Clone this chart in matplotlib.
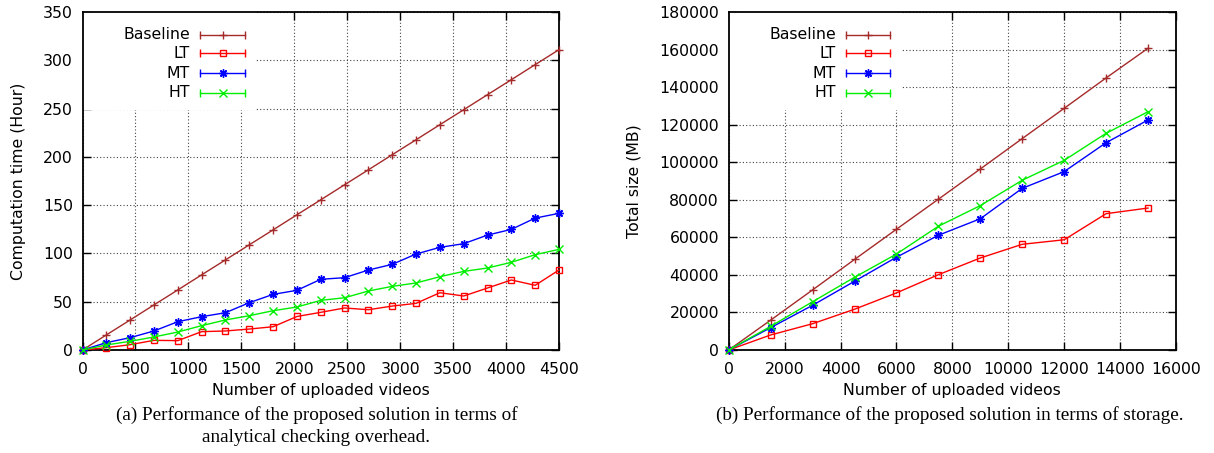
import numpy as np
import matplotlib.pyplot as plt
from matplotlib.patches import Rectangle

# (a) analytical checking overhead
videos_a = [0, 225, 450, 675, 900, 1125, 1350, 1575, 1800, 2025, 2250,
            2475, 2700, 2925, 3150, 3375, 3600, 3825, 4050, 4275, 4500]
base_a = [0, 15.6, 31.1, 46.7, 62.2, 77.8, 93.3, 108.9, 124.4, 140.0, 155.5,
          171.1, 186.6, 202.2, 217.7, 233.3, 248.8, 264.4, 279.9, 295.5, 311.0]
lt_a = [0, 2.4, 5.5, 10.0, 9.7, 19.0, 19.7, 21.7, 24.1, 34.7, 39.0,
        43.5, 41.7, 45.5, 48.3, 59.3, 55.9, 64.2, 72.5, 67.0, 82.8]
mt_a = [0, 7.6, 12.8, 19.7, 29.3, 34.5, 38.6, 49.0, 57.6, 61.8, 73.2,
        74.9, 82.8, 88.7, 99.4, 106.3, 110.1, 119.0, 124.9, 136.6, 141.5]
ht_a = [0, 5.2, 9.0, 13.5, 18.6, 25.2, 31.1, 35.5, 40.7, 44.5, 51.4,
        54.1, 61.1, 65.9, 69.4, 75.9, 81.4, 84.9, 90.8, 98.7, 104.2]

# (b) storage
videos_b = [0, 1500, 3000, 4500, 6000, 7500, 9000, 10500, 12000, 13500, 15000]
base_b = [0, 15900, 32000, 48200, 64300, 80300, 96400, 112600, 128700, 144900, 160700]
lt_b = [0, 8000, 14000, 21700, 30400, 40100, 49000, 56300, 58700, 72600, 75600]
mt_b = [0, 11900, 23800, 36600, 49400, 61100, 69900, 86100, 95000, 110400, 122500]
ht_b = [0, 12600, 25700, 38700, 51100, 65900, 76900, 90400, 101000, 115400, 126900]

labels = ['Baseline', 'LT', 'MT', 'HT']
colors = ['#a52a2a', '#ff0000', '#0000ff', '#00ee00']
markers = ['+', 's', (8, 2, 0), 'x']

plt.rcParams['font.family'] = 'DejaVu Sans'
fig = plt.figure(figsize=(12.14, 4.53), dpi=100)
W, H = 1214, 453


def px_axes(l, r, t, b):
    return fig.add_axes([l / W, 1 - b / H, (r - l) / W, (b - t) / H])


def style(ax):
    ax.set_axisbelow(True)
    ax.grid(True, color='#444444', linestyle=(0, (1, 2)), linewidth=0.8)
    ax.tick_params(direction='in', top=True, right=True, length=6, width=1,
                   labelsize=11.3)
    ax.tick_params(axis='y', pad=7)
    ax.tick_params(axis='x', pad=9)
    for s in ax.spines.values():
        s.set_linewidth(1.3)


def legend(ax, text_x, line_x0, line_x1, box_r):
    # opaque box behind the key, like gnuplot
    ax.add_patch(Rectangle((0, 1 - 98 / 338), box_r, 98 / 338,
                           transform=ax.transAxes, facecolor='white',
                           edgecolor='none', zorder=1))
    ys = [34.7, 53.3, 73.3, 92.7]
    for lab, c, m, yp in zip(labels, colors, markers, ys):
        y = 1 - (yp - 12) / 338
        ax.text(text_x, y, lab, transform=ax.transAxes, ha='right',
                va='center', fontsize=11.3, zorder=5)
        ax.plot([line_x0, line_x1], [y, y], color=c, lw=1,
                transform=ax.transAxes, clip_on=False, zorder=5)
        ax.plot([line_x0, line_x1], [y, y], color=c, lw=0, marker='|',
                ms=6, mew=1, transform=ax.transAxes, clip_on=False, zorder=5)
        ax.plot([(line_x0 + line_x1) / 2], [y], color=c, lw=0, marker=m,
                ms=6 if m != 's' else 5, mew=1, mfc='none',
                transform=ax.transAxes, clip_on=False, zorder=5)


def draw(ax, x, series):
    for ys, c, m in zip(series, colors, markers):
        ax.plot(x, ys, color=c, lw=1, marker=m, ms=6 if m != 's' else 5,
                mew=1, mfc='none', clip_on=False, zorder=3)


# left panel
ax1 = px_axes(82.5, 559, 12, 350)
draw(ax1, videos_a, [base_a, lt_a, mt_a, ht_a])
ax1.set_xlim(0, 4500)
ax1.set_ylim(0, 350)
ax1.set_xticks(np.arange(0, 4501, 500))
ax1.set_yticks(np.arange(0, 351, 50))
style(ax1)
ax1.set_xlabel('Number of uploaded videos', fontsize=11.3, labelpad=4)
ax1.set_ylabel('Computation time (Hour)', fontsize=11.3, labelpad=12)
legend(ax1, (190 - 82.5) / 476.5, (200 - 82.5) / 476.5, (245 - 82.5) / 476.5,
       (255 - 82.5) / 476.5)

# right panel
ax2 = px_axes(728.7, 1176, 12, 350)
draw(ax2, videos_b, [base_b, lt_b, mt_b, ht_b])
ax2.set_xlim(0, 16000)
ax2.set_ylim(0, 180000)
ax2.set_xticks(np.arange(0, 16001, 2000))
ax2.set_yticks(np.arange(0, 180001, 20000))
style(ax2)
ax2.set_xlabel('Number of uploaded videos', fontsize=11.3, labelpad=4)
ax2.set_ylabel('Total size (MB)', fontsize=11.3, labelpad=12.5)
legend(ax2, (836 - 728.7) / 447.3, (846 - 728.7) / 447.3, (890 - 728.7) / 447.3,
       (901 - 728.7) / 447.3)

cap = dict(fontsize=13.8, family='Liberation Serif', ha='center', va='center')
fig.text(316.5 / W, 1 - 415 / H, '(a) Performance of the proposed solution in terms of', **cap)
fig.text(316.5 / W, 1 - 437 / H, 'analytical checking overhead.', **cap)
fig.text(950 / W, 1 - 415 / H, '(b) Performance of the proposed solution in terms of storage.', **cap)

fig.savefig('out.png', dpi=100)
